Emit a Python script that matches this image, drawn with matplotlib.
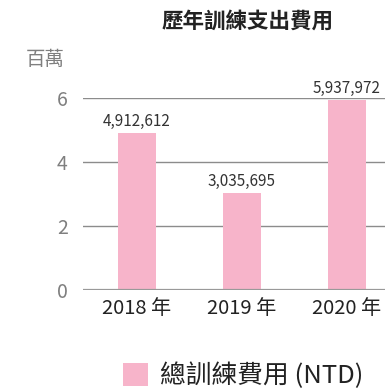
import matplotlib.pyplot as plt

plt.rcParams['font.family'] = ['Noto Sans CJK TC', 'DejaVu Sans']

years = ['2018 年', '2019 年', '2020 年']
costs = [4912612, 3035695, 5937972]
series_name = '總訓練費用 (NTD)'

pink = '#f7b4ca'
grid_grey = '#8c8c8c'

fig = plt.figure(figsize=(3.85, 3.92), dpi=100)
ax = fig.add_axes([0.2156, 0.2602, 0.7844, 0.4898])

x = range(len(years))
millions = [c / 1e6 for c in costs]
bars = ax.bar(x, millions, width=0.36, color=pink, label=series_name, zorder=3)

for xi, c, m in zip(x, costs, millions):
    ax.text(xi, m + 0.1, f'{c:,}', ha='center', va='bottom',
            fontsize=11, color='#333333')

ax.set_xlim(-0.514, 2.362)
ax.set_ylim(0, 6)
ax.set_yticks([0, 2, 4, 6])
ax.set_xticks(list(x))
ax.set_xticklabels(years)
ax.yaxis.grid(True, color=grid_grey, linewidth=1.0, zorder=0)
ax.axhline(0, color='#999999', linewidth=1.6, zorder=4)
ax.tick_params(axis='both', length=0)
ax.tick_params(axis='y', labelsize=14, labelcolor='#7f7f7f', pad=11)
ax.tick_params(axis='x', labelsize=14.5, labelcolor='#222222', pad=6)
for s in ax.spines.values():
    s.set_visible(False)

fig.text(0.642, 0.946, '歷年訓練支出費用', ha='center', va='center',
         fontsize=15.5, fontweight='bold', color='#222222')
fig.text(0.068, 0.849, '百萬', ha='left', va='center', fontsize=14, color='#7f7f7f')

fig.legend(handles=[bars], labels=[series_name], loc='center',
           bbox_to_anchor=(0.631, 0.042), frameon=False, fontsize=18.5,
           handlelength=1.0, handleheight=1.0, handletextpad=0.45,
           borderpad=0, labelcolor='#222222')

fig.savefig('out.png', dpi=100)
